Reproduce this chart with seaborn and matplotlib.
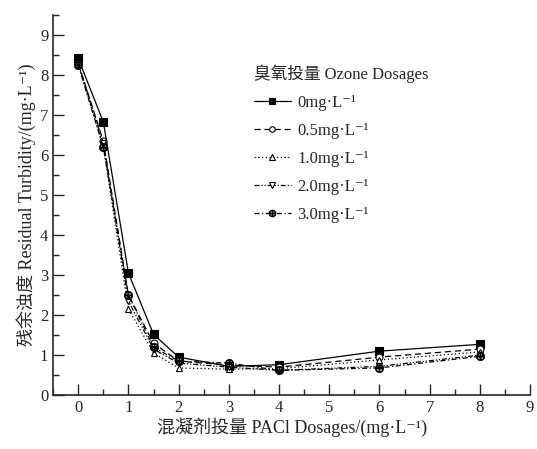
import numpy as np
import pandas as pd
import seaborn as sns
from matplotlib import pyplot as plt
from matplotlib.ticker import MultipleLocator
from matplotlib.lines import Line2D

pac = [0, 0.5, 1, 1.5, 2, 3, 4, 6, 8]
ozone_labels = ["0mg·L⁻¹", "0.5mg·L⁻¹", "1.0mg·L⁻¹", "2.0mg·L⁻¹", "3.0mg·L⁻¹"]
turb_0 = [8.42, 6.83, 3.05, 1.52, 0.95, 0.72, 0.76, 1.10, 1.27]
turb_05 = [8.30, 6.35, 2.50, 1.30, 0.85, 0.75, 0.70, 0.95, 1.15]
turb_10 = [8.28, 6.20, 2.15, 1.05, 0.68, 0.65, 0.66, 0.88, 1.08]
turb_20 = [8.30, 6.30, 2.35, 1.15, 0.80, 0.70, 0.62, 0.72, 1.00]
turb_30 = [8.25, 6.20, 2.50, 1.20, 0.85, 0.80, 0.62, 0.68, 0.97]

rows = []
for lab, vals in zip(ozone_labels, [turb_0, turb_05, turb_10, turb_20, turb_30]):
    for x, y in zip(pac, vals):
        rows.append({"pac": x, "turb": y, "ozone": lab})
df = pd.DataFrame(rows)

sns.set_style("ticks")
plt.rcParams['font.family'] = ['Liberation Serif', 'Noto Sans CJK SC', 'DejaVu Serif']

fig = plt.figure(figsize=(5.37, 4.49), dpi=100)
ax = fig.add_axes([0.099, 0.12, 0.888, 0.846])

markers = {ozone_labels[0]: 's', ozone_labels[1]: 'o', ozone_labels[2]: '^',
           ozone_labels[3]: 'v', ozone_labels[4]: r'$\oplus$'}
dashes = {ozone_labels[0]: '', ozone_labels[1]: (5, 3), ozone_labels[2]: (1, 2),
          ozone_labels[3]: (4, 1.5, 1, 1.5, 1, 1.5), ozone_labels[4]: (4, 2, 1, 2)}
sns.lineplot(data=df, x="pac", y="turb", hue="ozone", style="ozone",
             palette=["black"] * 5, markers=markers, dashes=dashes,
             markersize=6, linewidth=0.9, ax=ax, legend=False)

handles = []
for i, line in enumerate(ax.lines):
    if i == 0:
        line.set_markerfacecolor('black')
    elif i < 4:
        line.set_markerfacecolor('white')
        line.set_markersize(5)
    else:
        line.set_markersize(6)
        line.set_markeredgewidth(0.5)
    line.set_markeredgecolor('black')
    if i < 4:
        line.set_markeredgewidth(0.8)
    handles.append(Line2D([], [], color='black', linestyle=line.get_linestyle(),
                          dashes=dashes[ozone_labels[i]] if i else (None, None),
                          linewidth=0.9, marker=line.get_marker(),
                          markersize=line.get_markersize() - 1,
                          markerfacecolor=line.get_markerfacecolor(),
                          markeredgecolor='black',
                          markeredgewidth=line.get_markeredgewidth()))

leg = ax.legend(handles, ozone_labels, title="臭氧投量 Ozone Dosages",
                frameon=False, loc='upper left', bbox_to_anchor=(0.39, 0.91),
                fontsize=12, title_fontsize=12, handlelength=2.2,
                labelspacing=0.72, handletextpad=0.4)
leg._legend_box.align = "left"

ax.set_xlim(-0.5, 9)
ax.set_ylim(0, 9.5)
ax.xaxis.set_major_locator(MultipleLocator(1))
ax.xaxis.set_minor_locator(MultipleLocator(0.5))
ax.yaxis.set_major_locator(MultipleLocator(1))
ax.yaxis.set_minor_locator(MultipleLocator(0.5))
ax.set_yticks(range(0, 10))
ax.tick_params(which='major', direction='in', length=8, width=1, labelsize=12)
ax.tick_params(which='minor', direction='in', length=4, width=1)
sns.despine(ax=ax)
for s in ['left', 'bottom']:
    ax.spines[s].set_linewidth(1.2)
ax.set_xlabel("混凝剂投量 PACl Dosages/(mg·L⁻¹)", fontsize=13, labelpad=1)
ax.set_ylabel("残余浊度 Residual Turbidity/(mg·L⁻¹)", fontsize=13, labelpad=3)

fig.savefig("out.png", dpi=100)
